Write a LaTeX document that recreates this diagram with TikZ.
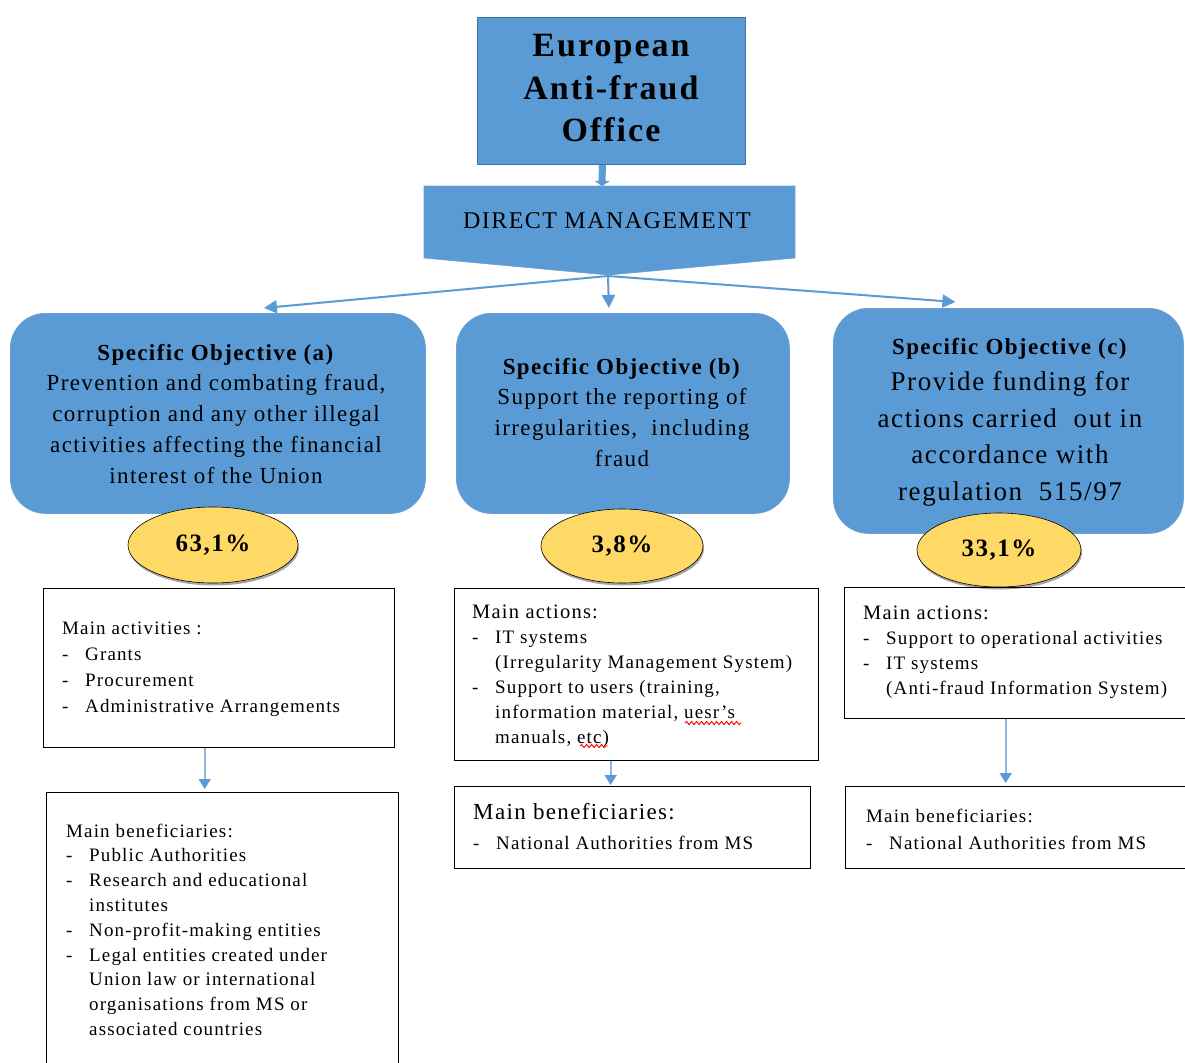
\documentclass[tikz,border=0pt]{standalone}
\usepackage{fontspec}
\setmainfont{Liberation Serif}[LetterSpace=6]
\usetikzlibrary{arrows.meta,shapes.geometric,shadows,decorations.pathmorphing}

\definecolor{oblue}{HTML}{5B9BD5}
\definecolor{oblueline}{HTML}{41719C}
\definecolor{objline}{HTML}{6E9FD3}
\definecolor{gold}{HTML}{FFD966}
\definecolor{thinarrow}{HTML}{8CB6E3}

% list helpers: a dash item and the indent of a wrapped line
\newcommand{\dashitem}{\makebox[23pt][l]{-}}
\newcommand{\wrapgap}{\hspace*{23pt}}

\begin{document}
\begin{tikzpicture}[x=1pt,y=-1pt,
  bluebox/.style={draw=oblueline, line width=0.8pt, fill=oblue, inner sep=0pt, anchor=north west},
  objbox/.style={draw=objline, line width=0.8pt, fill=oblue, rounded corners=35pt, inner sep=0pt, anchor=north west},
  pct/.style={ellipse, draw=black, line width=0.6pt, fill=gold, inner sep=0pt,
    font=\fontsize{25}{30}\selectfont\bfseries,
    drop shadow={shadow xshift=1pt, shadow yshift=-2.5pt, opacity=0.35, fill=black}},
  listbox/.style={draw=black, line width=1.3pt, inner sep=0pt, anchor=north west},
  ctext/.style={anchor=base, inner sep=0pt},
  ltext/.style={anchor=base west, inner sep=0pt},
  fanarrow/.style={draw=oblue, line width=2pt, -{Triangle[length=13pt,width=13pt]}},
  downarrow/.style={draw=thinarrow, line width=1.8pt, -{Triangle[length=10pt,width=12pt,color=oblue]}},
  squiggle/.style={draw=red, line width=0.9pt, decorate, decoration={snake, amplitude=1.6pt, segment length=5pt}}
]
\fill[white] (0,0) rectangle (1185,1062);
\useasboundingbox (0,0) rectangle (1185,1062);

% ---- head office ----
\node[bluebox, minimum width=268, minimum height=147] (office) at (477,17) {};
\node[ctext] (officetext) at (611,57) {\parbox[t]{260pt}{\centering\fontsize{34}{42.5}\selectfont\bfseries European\\Anti-fraud\\Office}};

% ---- direct management (pentagon pointing down) ----
\filldraw[fill=oblue, draw=objline, line width=0.6pt] (424,186) -- (795,186) -- (795,258) -- (608,275) -- (424,258) -- cycle;
\coordinate (dmtop) at (602,186);
\coordinate (dmtip) at (608,276);
\node[ctext] (dm) at (607,228) {\fontsize{24}{28}\selectfont DIRECT MANAGEMENT};
\draw[draw=oblue, line width=7pt, -{Triangle[length=5pt,width=15pt]}] ([xshift=-9pt]office.south) -- (dmtop);

% ---- specific objectives ----
\node[objbox, minimum width=415, minimum height=200] (soa) at (10,313) {};
\node[objbox, minimum width=333, minimum height=200] (sob) at (456,313) {};
\node[objbox, minimum width=350, minimum height=225] (soc) at (833,308) {};

\draw[fanarrow] (dmtip) -- ([shift={(46,-5)}]soa.north);
\draw[fanarrow] (dmtip) -- ([shift={(-14,-5)}]sob.north);
\draw[fanarrow] (dmtip) -- ([shift={(-53,-6)}]soc.north);

\node[ctext] (soatext) at (216,360) {\parbox[t]{405pt}{\centering\fontsize{23}{30.8}\selectfont
  \textbf{Specific Objective (a)}\\
  Prevention and combating fraud,\\
  corruption and any other illegal\\
  activities affecting the financial\\
  interest of the Union}};
\node[ctext] (sobtext) at (622,374) {\parbox[t]{325pt}{\centering\fontsize{23}{30.7}\selectfont
  \textbf{Specific Objective (b)}\\
  Support the reporting of\\
  irregularities,\ \ including\\
  fraud}};
\node[ctext] (soctext) at (1010,354) {\parbox[t]{345pt}{\centering\fontsize{27}{36.5}\selectfont
  {\fontsize{23}{36.5}\selectfont\textbf{Specific Objective (c)}}\\
  Provide funding for\\
  actions carried\ \ out in\\
  accordance with\\
  regulation\ \ 515/97}};

% ---- budget shares ----
\node[pct, minimum width=170, minimum height=76] (pa) at (213,545) {63,1\%};
\node[pct, minimum width=162, minimum height=74] (pb) at (622,546) {3,8\%};
\node[pct, minimum width=164, minimum height=74] (pc) at (999,550) {33,1\%};

% ---- activities / actions ----
\node[listbox, minimum width=351, minimum height=159] (a1) at (43,588) {};
\node[listbox, minimum width=352, minimum height=290] (a2) at (46,792) {};
\node[listbox, minimum width=364, minimum height=172] (b1) at (454,588) {};
\node[listbox, minimum width=356, minimum height=82] (b2) at (454,786) {};
\node[listbox, minimum width=346, minimum height=131] (c1) at (844,587) {};
\node[listbox, minimum width=345, minimum height=82] (c2) at (845,786) {};

\node[ltext] (a1text) at (62,634) {\parbox[t]{330pt}{\raggedright\fontsize{19}{26}\selectfont
  Main activities :\\
  \dashitem Grants\\
  \dashitem Procurement\\
  \dashitem Administrative Arrangements}};
\node[ltext] (a2text) at (66,837) {\parbox[t]{330pt}{\raggedright\fontsize{19}{24.8}\selectfont
  Main beneficiaries:\\
  \dashitem Public Authorities\\
  \dashitem Research and educational\\
  \wrapgap institutes\\
  \dashitem Non-profit-making entities\\
  \dashitem Legal entities created under\\
  \wrapgap Union law or international\\
  \wrapgap organisations from MS or\\
  \wrapgap associated countries}};
\node[ltext] (b1text) at (472,618) {\parbox[t]{345pt}{\raggedright\fontsize{19}{25}\selectfont
  {\fontsize{20.5}{25}\selectfont Main actions:}\\
  \dashitem IT systems\\
  \wrapgap (Irregularity Management System)\\
  \dashitem Support to users (training,\\
  \wrapgap information material, uesr's\\
  \wrapgap manuals, etc)}};
\node[ltext] (b2text) at (473,819) {\parbox[t]{335pt}{\raggedright\fontsize{19}{30}\selectfont
  {\fontsize{23}{30}\selectfont Main beneficiaries:}\\
  \dashitem National Authorities from MS}};
\node[ltext] (c1text) at (863,619) {\parbox[t]{325pt}{\raggedright\fontsize{19}{25}\selectfont
  {\fontsize{20.5}{25}\selectfont Main actions:}\\
  \dashitem Support to operational activities\\
  \dashitem IT systems\\
  \wrapgap (Anti-fraud Information System)}};
\node[ltext] (c2text) at (866,822) {\parbox[t]{325pt}{\raggedright\fontsize{19}{27}\selectfont
  Main beneficiaries:\\
  \dashitem National Authorities from MS}};

% spell-check marks under the misspelt words
\draw[squiggle] (685,723) -- (741,723);
\draw[squiggle] (580,746) -- (608,746);

% ---- activities to beneficiaries ----
\draw[downarrow] ([xshift=-14.5pt]a1.south) -- ([shift={(-18,-3)}]a2.north);
\draw[downarrow] ([xshift=-26pt]b1.south) -- ([shift={(-22,-1)}]b2.north);
\draw[downarrow] ([xshift=-12pt]c1.south) -- ([shift={(-12.5,-3)}]c2.north);
\end{tikzpicture}
\end{document}
